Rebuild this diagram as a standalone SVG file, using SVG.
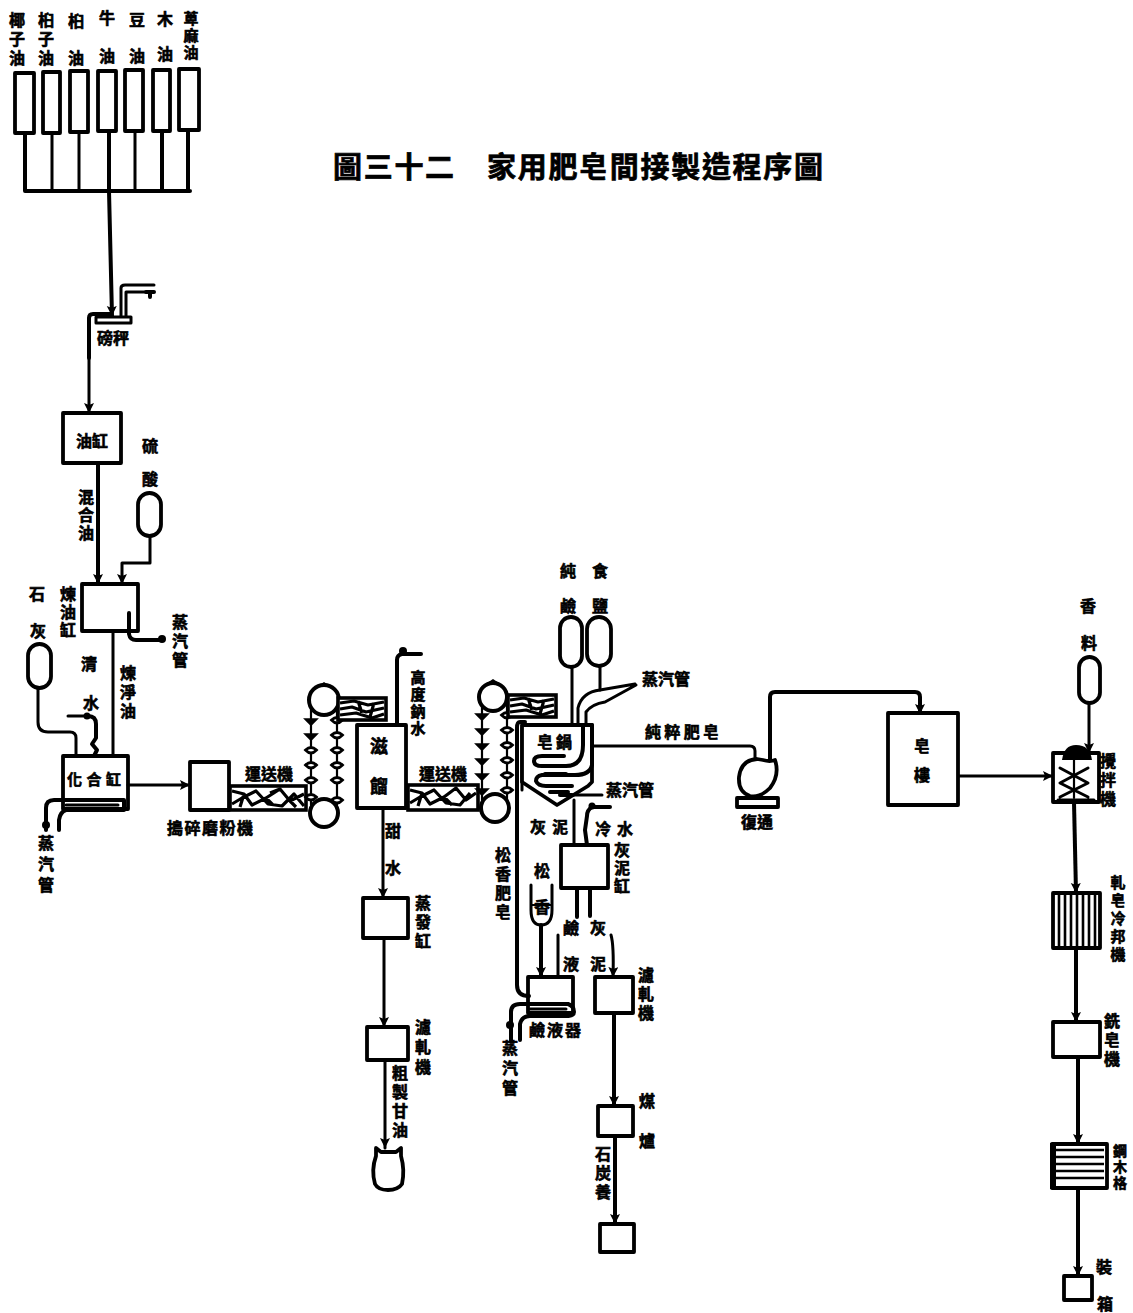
<svg xmlns="http://www.w3.org/2000/svg" width="1133" height="1313" viewBox="0 0 1133 1313">
<style>
text{font-family:"Noto Sans CJK TC","Noto Sans CJK SC",sans-serif;font-weight:700;font-size:16px;fill:#000;stroke:#000;stroke-width:.6;text-anchor:middle;dominant-baseline:central}
.title{font-size:29px;letter-spacing:1.7px;stroke-width:.7;text-anchor:start}
.v{writing-mode:vertical-rl;text-orientation:upright;letter-spacing:2px}
.l3{letter-spacing:3px}.l4{letter-spacing:4px}.l5{letter-spacing:5px}
.s15{font-size:15px}.s14{font-size:14px}.s18{font-size:18px}
.box{fill:#fff;stroke:#000;stroke-width:3.8;stroke-linejoin:round}
.open{fill:none;stroke:#000;stroke-width:3.8;stroke-linejoin:round}
.cap{fill:#fff;stroke:#000;stroke-width:3.8}
.line{fill:none;stroke:#000;stroke-width:3;stroke-linejoin:round;stroke-linecap:round}
.stripe{fill:none;stroke:#000;stroke-width:2.6}
.thin{fill:none;stroke:#000;stroke-width:2.2;stroke-linecap:round}
.thick{fill:none;stroke:#000;stroke-width:4;stroke-linecap:round;stroke-linejoin:round}
.arr{marker-end:url(#a)}
.wheel{fill:#fff;stroke:#000;stroke-width:4}
.blk{fill:#000}
.fr{fill:#fff;stroke:#000;stroke-width:3.6}
.zig{fill:none;stroke:#000;stroke-width:3.2;stroke-linejoin:round}
</style>
<defs>
<marker id="a" markerUnits="userSpaceOnUse" markerWidth="11" markerHeight="13" refX="10" refY="5" orient="auto"><path d="M0 0L10 5L0 10L2 5Z" fill="#000"/></marker>
<path id="bk" d="M-5.5 0Q0 -5 5.5 0Q0 6 -5.5 0Z" fill="#fff" stroke="#000" stroke-width="2.8"/>
<path id="bd" d="M-6 -1H6L0 5Z" fill="#000" stroke="#000" stroke-width="1.6"/>
<g id="rack">
<rect class="fr" x="0" y="0" width="48" height="22"/>
<path class="zig" d="M2 5L16 3L30 7L46 4M2 11L14 9L28 14L46 10M2 17L18 15L34 20L46 16M20 3L24 15M36 5L32 19"/>
</g>
</defs>
<rect width="1133" height="1313" fill="#fff"/>

<g id="title">
<text class="title" x="333" y="165">圖三十二</text>
<text class="title" x="487" y="165">家用肥皂間接製造程序圖</text>
</g>

<g id="connectors">
<path class="line" d="M52 133V191M79 132V191M135 131V190"/>
<path class="thick" d="M25 133V191H190M188 130V190M162 131V190"/>
<path class="thick arr" d="M109 131V191L112 316"/>
<path class="thick" d="M89 358V318Q89 314 93 314H110"/>
<path class="line arr" d="M89 358V413"/>
<path class="line" d="M121 316V288Q121 285 125 285H154M126 316V292H146"/>
<path class="thick" d="M146 292H154M150 292V297"/>
<path class="thick arr" d="M98 463V584"/>
<path class="line arr" d="M150 536V563H122V584"/>
<path class="thick" d="M129 613V634Q130 640 136 640H162"/>
<circle class="blk" cx="162" cy="639" r="4"/>
<path class="line" d="M113 631V756"/>
<path class="line" d="M38 688V722Q38 732 48 732H70Q76 732 76 738V756"/>
<path class="line" d="M68 716H88"/>
<path class="thick" d="M88 716Q96 716 96 724V738L92 744L97 750L94 756"/>
<circle class="blk" cx="87" cy="716" r="3.5"/>
<path class="thick" d="M46 830V808Q46 800 54 800H124V810H66Q60 812 59 820V830"/>
<path class="line" d="M66 805H118"/>
<circle class="blk" cx="46" cy="825" r="4"/>
<path class="line arr" d="M128 785H190"/>
<path class="thick" d="M397 725V660Q397 655 402 654H421"/>
<circle class="blk" cx="403" cy="651" r="4"/>
<path class="line arr" d="M383 808V898"/>
<path class="line arr" d="M384 938V1027"/>
<path class="line arr" d="M385 1060V1148"/>
<path class="thick" d="M525 722H520Q517 722 517 728V985Q517 996 529 996"/>
<path class="line" d="M522 728V790"/>
<path class="line" d="M572 667V725M600 666V690"/>
<path class="line" d="M635 684L600 690Q582 692 578 708V725M636 685L605 702Q592 704 586 712V725"/>
<path class="line" d="M593 746H750Q755 746 755 751V762"/>
<path class="thick arr" d="M770 762V697Q770 692 775 692H915Q920 692 920 697V714"/>
<path class="line arr" d="M958 776H1053"/>
<path class="line" d="M570 795H602"/>
<path class="line" d="M574 800V845"/>
<path class="thick" d="M610 807H592Q587 810 587 816L585 830L587 845"/>
<circle class="blk" cx="592" cy="806" r="3.5"/>
<path class="thick" d="M577 888V917M590 888V916"/>
<path class="line" d="M558 935V976"/>
<path class="line arr" d="M611 935Q614 945 613 977"/>
<path class="thick arr" d="M541 925V977"/>
<path class="thick arr" d="M614 1013V1106"/>
<path class="thick arr" d="M615 1136V1224"/>
<path class="line arr" d="M1089 703V753"/>
<path class="thick arr" d="M1074 802L1076 893"/>
<path class="thick arr" d="M1076 948V1022"/>
<path class="thick arr" d="M1078 1057V1144"/>
<path class="thick arr" d="M1078 1188V1276"/>
<path class="thick" d="M511 1042V1012Q511 1004 520 1004H568Q574 1006 574 1012Q574 1016 566 1016H530Q522 1016 520 1024V1040"/>
<path class="line" d="M530 1009H566"/>
<circle class="blk" cx="510" cy="1025" r="4"/>
</g>

<g id="tank-1"><rect class="box" x="15" y="73" width="19" height="60"/><text class="v l3" x="17" y="40">椰子油</text></g>
<g id="tank-2"><rect class="box" x="43" y="72" width="17" height="61"/><text class="v l3" x="46" y="40">桕子油</text></g>
<g id="tank-3"><rect class="box" x="70" y="71" width="18" height="61"/><text><tspan x="76" y="20">桕</tspan><tspan x="76" y="57">油</tspan></text></g>
<g id="tank-4"><rect class="box" x="98" y="71" width="18" height="60"/><text><tspan x="107" y="17">牛</tspan><tspan x="107" y="55">油</tspan></text></g>
<g id="tank-5"><rect class="box" x="125" y="70" width="18" height="61"/><text><tspan x="137" y="19">豆</tspan><tspan x="137" y="55">油</tspan></text></g>
<g id="tank-6"><rect class="box" x="153" y="70" width="17" height="61"/><text><tspan x="165" y="18">木</tspan><tspan x="165" y="53">油</tspan></text></g>
<g id="tank-7"><rect class="box" x="179" y="69" width="20" height="61"/><text class="v s15" x="191" y="36">萆麻油</text></g>

<g id="scale"><rect class="box" x="96" y="317" width="35" height="6" style="stroke-width:3"/><text x="113" y="337">磅秤</text></g>
<g id="oil-tank"><rect class="box" x="63" y="413" width="58" height="50"/><text x="92" y="440">油缸</text></g>
<g id="mixed-oil-label"><text class="v" x="86" y="516">混合油</text></g>
<g id="acid"><rect class="cap" x="138" y="493" width="23" height="43" rx="11.5"/><text><tspan x="150" y="445">硫</tspan><tspan x="150" y="478">酸</tspan></text></g>
<g id="refining-tank"><rect class="open" x="82" y="584" width="56" height="47"/><text class="v" x="68" y="613">煉油缸</text><text class="v l3" x="180" y="642">蒸汽管</text></g>
<g id="lime"><rect class="cap" x="28" y="644" width="23" height="44" rx="11.5"/><text><tspan x="37" y="593">石</tspan><tspan x="38" y="630">灰</tspan></text></g>
<g id="water-labels"><text><tspan x="89" y="663">清</tspan><tspan x="91" y="702">水</tspan></text><text class="v l3" x="128" y="693">煉淨油</text></g>
<g id="reaction-tank"><rect class="open" x="63" y="756" width="65" height="53"/><text x="94" y="778" class="s15" textLength="54">化合缸</text><text class="v l5" x="46" y="866">蒸汽管</text></g>
<g id="grinder"><rect class="box" x="190" y="762" width="39" height="48"/><text x="210" y="827" textLength="86">搗碎磨粉機</text></g>
<g id="conveyor-1"><rect class="fr" x="230" y="786" width="76" height="24"/><path class="zig" d="M232 791L244 794L252 805L266 798L280 789L290 801L304 794M232 804L242 798L256 791L268 804L282 806L294 794L304 806M244 794L240 807M266 798L274 806M280 789L270 793M290 801L296 807"/><text x="269" y="773">運送機</text></g>
<g id="elevator-1">
<path class="thin" d="M311 708V805M337 708V805"/>
<use href="#bd" x="311" y="720"/><use href="#bd" x="311" y="735"/><use href="#bk" x="311" y="750"/><use href="#bk" x="311" y="765"/><use href="#bk" x="311" y="780"/><use href="#bk" x="311" y="797"/>
<use href="#bk" x="337" y="720"/><use href="#bk" x="337" y="735"/><use href="#bk" x="337" y="750"/><use href="#bk" x="337" y="765"/><use href="#bk" x="337" y="780"/><use href="#bk" x="337" y="800"/>
<circle class="wheel" cx="324" cy="700" r="15"/><circle class="wheel" cx="324" cy="813" r="14"/>
<path class="blk" d="M318 686L324 682L330 686Z"/>
<use href="#rack" x="338" y="698"/>
</g>
<g id="still"><rect class="box" x="357" y="725" width="49" height="83"/><text class="s18"><tspan x="379" y="745">滋</tspan><tspan x="379" y="785">餾</tspan></text></g>
<g id="lye-label"><text class="v s15" x="418" y="704">高度鈉水</text></g>
<g id="conveyor-2"><rect class="fr" x="408" y="785" width="70" height="25"/><path class="zig" d="M410 790L422 793L430 804L444 797L456 788L466 800L476 793M410 803L420 797L434 790L446 803L460 805L470 793M422 793L418 806M444 797L452 805"/><text x="443" y="773">運送機</text></g>
<g id="elevator-2">
<path class="thin" d="M482 705V800M507 705V800"/>
<use href="#bd" x="482" y="715"/><use href="#bd" x="482" y="730"/><use href="#bd" x="482" y="745"/><use href="#bd" x="482" y="760"/><use href="#bd" x="482" y="775"/><use href="#bd" x="482" y="790"/>
<use href="#bk" x="507" y="715"/><use href="#bk" x="507" y="730"/><use href="#bk" x="507" y="745"/><use href="#bk" x="507" y="760"/><use href="#bk" x="507" y="775"/><use href="#bk" x="507" y="790"/>
<circle class="wheel" cx="493" cy="697" r="14"/><circle class="wheel" cx="495" cy="808" r="14"/>
<path class="blk" d="M487 683L493 679L499 683Z"/>
<use href="#rack" x="508" y="695"/>
</g>
<g id="soap-kettle">
<path class="box" d="M522 725H592V782L588 786L557 805L522 782Z"/>
<text><tspan x="545" y="741">皂</tspan><tspan x="564" y="741">鍋</tspan></text>
<path class="thick" d="M583 725V745Q583 766 566 766H542Q534 766 534 761Q534 756 542 756H564M566 774H545"/>
<path class="thick" d="M592 725V765Q590 775 575 775H542Q536 776 536 781Q538 786 546 786H572M550 792H568"/>
<path class="thick" d="M560 795H572"/>
<text x="630" y="789">蒸汽管</text>
<text><tspan x="538" y="826">灰</tspan><tspan x="560" y="826">泥</tspan><tspan x="603" y="828">冷</tspan><tspan x="625" y="828">水</tspan></text>
</g>
<g id="alkali"><rect class="cap" x="560" y="617" width="22" height="50" rx="11"/><text><tspan x="568" y="570">純</tspan><tspan x="568" y="605">鹼</tspan></text></g>
<g id="salt"><rect class="cap" x="587" y="617" width="24" height="49" rx="12"/><text><tspan x="600" y="570">食</tspan><tspan x="600" y="605">鹽</tspan></text><text x="666" y="678">蒸汽管</text></g>
<g id="rosin-soap-label"><text class="v l3" x="503" y="885">松香肥皂</text></g>
<g id="pure-soap-label"><text x="682" y="731" textLength="74">純粹肥皂</text></g>
<g id="pump">
<path class="box" d="M763 760Q770 762 775 760Q780 775 770 788Q760 798 750 796Q738 792 739 777Q741 760 757 759Z"/>
<rect class="box" x="737" y="798" width="41" height="9"/>
<text x="757" y="821">復通</text>
</g>
<g id="soap-frame"><rect class="box" x="888" y="713" width="70" height="92"/><text><tspan x="922" y="745">皂</tspan><tspan x="922" y="774">樓</tspan></text></g>
<g id="lime-tank"><rect class="box" x="561" y="845" width="47" height="43"/><text class="v" x="622" y="869">灰泥缸</text><text><tspan x="571" y="927">鹼</tspan><tspan x="598" y="927">灰</tspan><tspan x="571" y="963">液</tspan><tspan x="598" y="963">泥</tspan></text></g>
<g id="rosin"><path class="line" d="M531 885V910Q531 925 541 925Q552 925 552 910V885"/><path class="thin" d="M532 905H551"/><text><tspan x="542" y="870">松</tspan><tspan x="542" y="906">香</tspan></text></g>
<g id="cooler"><rect class="open" x="528" y="977" width="45" height="36"/><text x="555" y="1029" textLength="52">鹼液器</text><text class="v l4" x="510" y="1070">蒸汽管</text></g>
<g id="filter-press-2"><rect class="box" x="595" y="977" width="38" height="36"/><text class="v l3" x="646" y="995">濾軋機</text></g>
<g id="furnace"><rect class="box" x="598" y="1106" width="35" height="30"/><text><tspan x="647" y="1100">煤</tspan><tspan x="647" y="1140">爐</tspan></text></g>
<g id="coal-label"><text class="v l3" x="603" y="1174">石炭養</text></g>
<g id="coal-bin"><rect class="box" x="600" y="1224" width="34" height="28"/></g>
<g id="sweet-water-label"><text><tspan x="393" y="830">甜</tspan><tspan x="393" y="867">水</tspan></text></g>
<g id="evaporator"><rect class="box" x="363" y="898" width="45" height="40"/><text class="v l3" x="423" y="923">蒸發缸</text></g>
<g id="filter-press-1"><rect class="box" x="367" y="1027" width="41" height="33"/><text class="v l4" x="423" y="1049">濾軋機</text></g>
<g id="crude-glycerin"><path class="box" d="M376 1148L381 1152H396L401 1148L401 1156Q405 1170 402 1184Q398 1190 388 1190Q378 1190 375 1184Q371 1170 376 1156Z"/><text class="v l3" x="400" y="1103">粗製甘油</text></g>
<g id="perfume"><rect class="cap" x="1079" y="657" width="21" height="46" rx="10.5"/><text><tspan x="1088" y="605">香</tspan><tspan x="1089" y="642">料</tspan></text></g>
<g id="mixer">
<rect class="box" x="1053" y="753" width="46" height="49"/>
<path class="blk" d="M1062 760Q1064 745 1076 745Q1090 745 1092 760Z"/>
<path class="line" d="M1060 768L1088 783L1060 797M1088 768L1060 783L1088 797M1058 800H1094"/>
<path class="thin" d="M1074 758V798"/>
<text class="v l3" x="1108" y="781">攪拌機</text>
</g>
<g id="cooling-press">
<rect class="box" x="1053" y="893" width="47" height="55"/>
<path class="stripe" d="M1059 893V948M1065 893V948M1071 893V948M1077 893V948M1083 893V948M1089 893V948M1095 893V948"/>
<text class="v l3 s15" x="1118" y="920">軋皂冷邦機</text>
</g>
<g id="milling"><rect class="box" x="1053" y="1022" width="47" height="35"/><text class="v l3" x="1112" y="1041">銑皂機</text></g>
<g id="crate-press">
<rect class="box" x="1052" y="1144" width="55" height="44"/>
<path class="stripe" d="M1056 1150H1104M1056 1157H1104M1056 1164H1104M1056 1171H1104M1056 1178H1104"/>
<path d="M1050 1143H1056V1189H1050Z" class="blk"/>
<text class="v s14" x="1120" y="1168">鋼木格</text>
</g>
<g id="packing"><rect class="box" x="1064" y="1276" width="28" height="24"/><text><tspan x="1104" y="1266">裝</tspan><tspan x="1105" y="1303">箱</tspan></text></g>
</svg>
